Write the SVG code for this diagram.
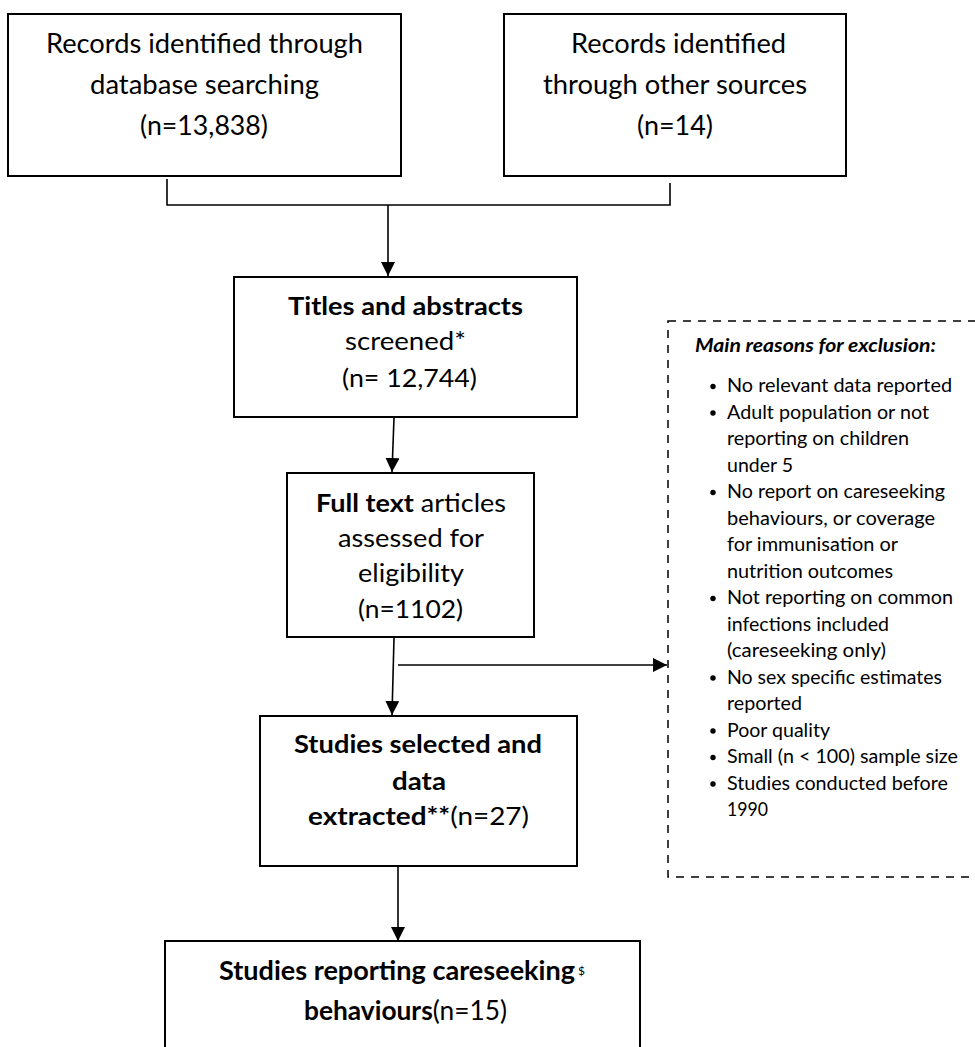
<svg xmlns="http://www.w3.org/2000/svg" width="975" height="1047" viewBox="0 0 975 1047">
<style>
.box{fill:#fff;stroke:#000;stroke-width:2}
.dash{fill:none;stroke:#000;stroke-width:1.5;stroke-dasharray:8 7}
.conn{fill:none;stroke:#000;stroke-width:1.6}
text{font-family:Lato,"Open Sans","Liberation Sans",sans-serif;fill:#000}
.big{font-size:27px}
.mid{font-size:25px}
.b{font-weight:bold}
.sm{font-size:18.5px}
.c{text-anchor:middle}
</style>
<defs>
<marker id="arr" markerUnits="userSpaceOnUse" markerWidth="14" markerHeight="14" refX="14" refY="7" orient="auto">
<path d="M0,0 L14,7 L0,14 z" fill="#000"/>
</marker>
</defs>
<rect width="975" height="1047" fill="#fff"/>

<g id="connectors">
<path class="conn" d="M167,179 V205 H670 V183"/>
<path class="conn" d="M388,205 V276" marker-end="url(#arr)"/>
<path class="conn" d="M394,418 L392,472" marker-end="url(#arr)"/>
<path class="conn" d="M394,638 L392,715" marker-end="url(#arr)"/>
<path class="conn" d="M398,665 H667" marker-end="url(#arr)"/>
<path class="conn" d="M398,867 V941" marker-end="url(#arr)"/>
</g>

<g id="node-database">
<rect class="box" x="8" y="14" width="393" height="162"/>
<text class="big c" x="204.5" y="53" textLength="317" lengthAdjust="spacingAndGlyphs">Records identified through</text>
<text class="big c" x="204.5" y="94" textLength="229" lengthAdjust="spacingAndGlyphs">database searching</text>
<text class="big c" x="204" y="135" textLength="128" lengthAdjust="spacingAndGlyphs">(n=13,838)</text>
</g>

<g id="node-other">
<rect class="box" x="504" y="14" width="342" height="162"/>
<text class="big c" x="678.5" y="53" textLength="215" lengthAdjust="spacingAndGlyphs">Records identified</text>
<text class="big c" x="675" y="94" textLength="264" lengthAdjust="spacingAndGlyphs">through other sources</text>
<text class="big c" x="675" y="135" textLength="76" lengthAdjust="spacingAndGlyphs">(n=14)</text>
</g>

<g id="node-titles">
<rect class="box" x="234" y="277" width="343" height="140"/>
<text class="mid c b" x="405.5" y="315" textLength="235" lengthAdjust="spacingAndGlyphs">Titles and abstracts</text>
<text class="mid c" x="405.5" y="350" textLength="121" lengthAdjust="spacingAndGlyphs">screened*</text>
<text class="mid c" x="409.5" y="387" textLength="135" lengthAdjust="spacingAndGlyphs">(n= 12,744)</text>
</g>

<g id="node-fulltext">
<rect class="box" x="287" y="473" width="247" height="164"/>
<text class="mid" x="316" y="512" textLength="190" lengthAdjust="spacingAndGlyphs"><tspan class="b">Full text</tspan> articles</text>
<text class="mid c" x="411" y="547" textLength="146" lengthAdjust="spacingAndGlyphs">assessed for</text>
<text class="mid c" x="411" y="582" textLength="106" lengthAdjust="spacingAndGlyphs">eligibility</text>
<text class="mid c" x="410.5" y="618" textLength="105" lengthAdjust="spacingAndGlyphs">(n=1102)</text>
</g>

<g id="node-selected">
<rect class="box" x="260" y="716" width="317" height="150"/>
<text class="mid c b" x="418" y="753" textLength="248" lengthAdjust="spacingAndGlyphs">Studies selected and</text>
<text class="mid c b" x="419" y="790" textLength="54" lengthAdjust="spacingAndGlyphs">data</text>
<text class="mid" x="308" y="825" textLength="221" lengthAdjust="spacingAndGlyphs"><tspan class="b">extracted**</tspan>(n=27)</text>
</g>

<g id="node-careseeking">
<rect class="box" x="165" y="941" width="475" height="120"/>
<text class="big b" x="219" y="980" textLength="356" lengthAdjust="spacingAndGlyphs">Studies reporting careseeking</text>
<text x="578" y="975" style="font-size:12px">$</text>
<text class="big" x="304" y="1020" textLength="203" lengthAdjust="spacingAndGlyphs"><tspan class="b">behaviours</tspan>(n=15)</text>
</g>

<g id="node-exclusion">
<rect class="dash" x="668" y="321" width="330" height="556"/>
<text class="b" x="695" y="352" style="font-size:19px;font-style:italic" textLength="241" lengthAdjust="spacingAndGlyphs">Main reasons for exclusion:</text>
<g fill="#000">
<circle cx="713" cy="386.5" r="2.7"/>
<circle cx="713" cy="413" r="2.7"/>
<circle cx="713" cy="492.5" r="2.7"/>
<circle cx="713" cy="598.5" r="2.7"/>
<circle cx="713" cy="678" r="2.7"/>
<circle cx="713" cy="731" r="2.7"/>
<circle cx="713" cy="757.5" r="2.7"/>
<circle cx="713" cy="784" r="2.7"/>
</g>
<g class="sm">
<text class="sm" x="727" y="392" textLength="225" lengthAdjust="spacingAndGlyphs">No relevant data reported</text>
<text class="sm" x="727" y="418.5" textLength="202" lengthAdjust="spacingAndGlyphs">Adult population or not</text>
<text class="sm" x="727" y="445" textLength="182" lengthAdjust="spacingAndGlyphs">reporting on children</text>
<text class="sm" x="727" y="471.5" textLength="66" lengthAdjust="spacingAndGlyphs">under 5</text>
<text class="sm" x="727" y="498" textLength="218" lengthAdjust="spacingAndGlyphs">No report on careseeking</text>
<text class="sm" x="727" y="524.5" textLength="208" lengthAdjust="spacingAndGlyphs">behaviours, or coverage</text>
<text class="sm" x="727" y="551" textLength="171" lengthAdjust="spacingAndGlyphs">for immunisation or</text>
<text class="sm" x="727" y="577.5" textLength="166" lengthAdjust="spacingAndGlyphs">nutrition outcomes</text>
<text class="sm" x="727" y="604" textLength="226" lengthAdjust="spacingAndGlyphs">Not reporting on common</text>
<text class="sm" x="727" y="630.5" textLength="162" lengthAdjust="spacingAndGlyphs">infections included</text>
<text class="sm" x="727" y="657" textLength="159" lengthAdjust="spacingAndGlyphs">(careseeking only)</text>
<text class="sm" x="727" y="683.5" textLength="215" lengthAdjust="spacingAndGlyphs">No sex specific estimates</text>
<text class="sm" x="727" y="710" textLength="75" lengthAdjust="spacingAndGlyphs">reported</text>
<text class="sm" x="727" y="736.5" textLength="103" lengthAdjust="spacingAndGlyphs">Poor quality</text>
<text class="sm" x="727" y="763" textLength="231" lengthAdjust="spacingAndGlyphs">Small (n &lt; 100) sample size</text>
<text class="sm" x="727" y="789.5" textLength="221" lengthAdjust="spacingAndGlyphs">Studies conducted before</text>
<text class="sm" x="727" y="816" textLength="41" lengthAdjust="spacingAndGlyphs">1990</text>
</g>
</g>
</svg>
